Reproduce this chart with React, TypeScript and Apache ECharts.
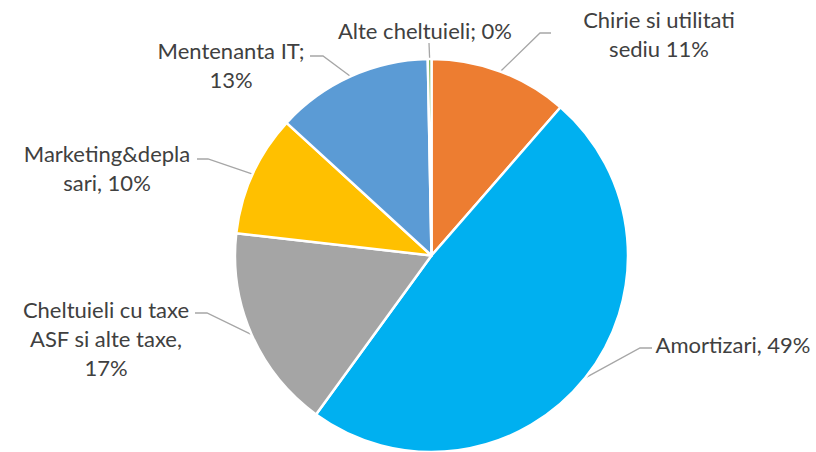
import React, { useEffect, useRef } from "react";
import * as echarts from "echarts";

const categories = [
  "Chirie si utilitati sediu",
  "Amortizari",
  "Cheltuieli cu taxe ASF si alte taxe",
  "Marketing&deplasari",
  "Mentenanta IT",
  "Alte cheltuieli",
];
const values = [11.4, 48.6, 16.8, 10.0, 12.9, 0.3];
const labelTexts = [
  "Chirie si utilitati\nsediu 11%",
  "Amortizari, 49%",
  "Cheltuieli cu taxe\nASF si alte taxe,\n17%",
  "Marketing&depla\nsari, 10%",
  "Mentenanta IT;\n13%",
  "Alte cheltuieli; 0%",
];
const colors = ["#ED7D31", "#00B0F0", "#A5A5A5", "#FFC000", "#5B9BD5", "#70AD47"];

// label layout config (center of label text, elbow and end of guide line)
const labelCenters: number[][] = [
  [659, 34],
  [733, 344],
  [106, 338],
  [107, 168],
  [231, 65],
  [425, 30],
];
const guideElbows: number[][] = [
  [540, 33],
  [640, 348],
  [207, 313],
  [208, 159],
  [323, 56],
  [429, 43],
];
const guideEnds: number[][] = [
  [551, 33],
  [652, 348],
  [195, 313],
  [197, 159],
  [310, 56],
  [429, 43],
];

export default function App() {
  const ref = useRef<HTMLDivElement>(null);
  useEffect(() => {
    document.body.style.margin = "0";
    const chart = echarts.init(ref.current!, null, { renderer: "svg" });
    chart.setOption({
      animation: false,
      backgroundColor: "#ffffff",
      series: [
        {
          type: "pie",
          center: [431.5, 255.5],
          radius: 196.5,
          startAngle: 90,
          clockwise: true,
          avoidLabelOverlap: false,
          itemStyle: { borderColor: "#ffffff", borderWidth: 2.5 },
          label: {
            show: true,
            position: "outside",
            formatter: (p: any) => labelTexts[p.dataIndex],
            color: "#404040",
            fontFamily: "Lato",
            fontSize: 22,
            lineHeight: 29,
            align: "center",
          },
          labelLine: {
            show: true,
            length: 10,
            length2: 10,
            lineStyle: { color: "#A6A6A6", width: 1.3 },
          },
          labelLayout: (p: any) => {
            const i = p.dataIndex;
            const start = p.labelLinePoints ? p.labelLinePoints[0] : guideElbows[i];
            return {
              x: labelCenters[i][0],
              y: labelCenters[i][1],
              align: "center",
              verticalAlign: "middle",
              labelLinePoints: [start, guideElbows[i], guideEnds[i]],
            };
          },
          data: categories.map((name, i) => ({
            name,
            value: values[i],
            itemStyle: { color: colors[i] },
          })),
        },
      ],
    });
    return () => chart.dispose();
  }, []);
  return <div ref={ref} style={{ width: 816, height: 452 }} />;
}
